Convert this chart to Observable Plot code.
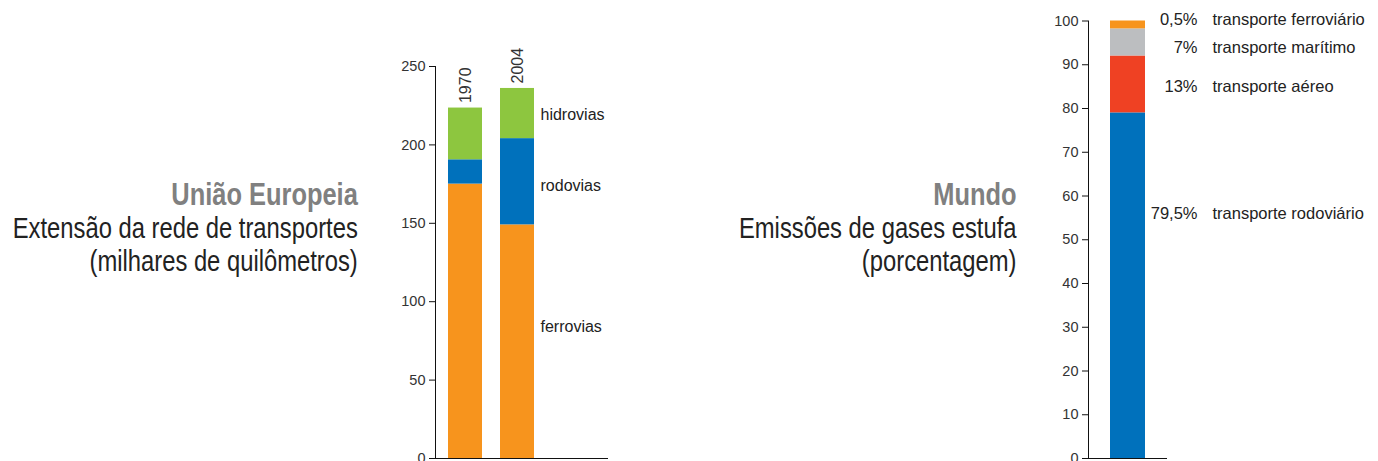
<!DOCTYPE html>
<html><head><meta charset="utf-8">
<script src="https://cdn.jsdelivr.net/npm/d3@7"></script>
<script src="https://cdn.jsdelivr.net/npm/@observablehq/plot@0.6"></script>
<style>
body{margin:0;background:#fff;}
#wrap{position:relative;width:1378px;height:461px;overflow:hidden;background:#fff;}
.ttl{position:absolute;text-align:right;font-family:"Liberation Sans",Arial,sans-serif;font-size:29px;line-height:33px;color:#222;white-space:nowrap;transform:scaleX(0.82);transform-origin:right top;}
.ttl b{color:#808080;font-size:31px;}
.plot{position:absolute;top:0;}
.plot svg{overflow:visible;}
</style></head><body><div id="wrap">
<div class="ttl" style="right:1020px;top:178px;"><b>União Europeia</b><br>Extensão da rede de transportes<br>(milhares de quilômetros)</div>
<div class="ttl" style="right:361px;top:178px;"><b>Mundo</b><br>Emissões de gases estufa<br>(porcentagem)</div>
<div class="plot" id="eu" style="left:380px;"></div>
<div class="plot" id="world" style="left:1030px;"></div>
</div>
<script>
// União Europeia – extensão da rede de transportes (milhares de km)
const euYears = ["1970", "2004"];
const euModes = ["ferrovias", "rodovias", "hidrovias"];
const euFerrovias = [175, 149];
const euRodovias = [15.5, 55];
const euHidrovias = [33, 32];
const euColors = ["#F7941D", "#0071BC", "#8DC63F"];
const euTicks = [0, 50, 100, 150, 200, 250];
const euLabelY = [84, 174, 219]; // where the mode names sit (ferrovias, rodovias, hidrovias)

// Mundo – emissões de gases estufa (%)
const wModes = ["transporte rodoviário", "transporte aéreo", "transporte marítimo", "transporte ferroviário"];
const wValues = [79, 13, 6.2, 1.8];
const wPctText = ["79,5%", "13%", "7%", "0,5%"];
const wColors = ["#0071BC", "#EF4123", "#BCBEC0", "#F7941D"];
const wTicks = [0, 10, 20, 30, 40, 50, 60, 70, 80, 90, 100];
const wLabelY = [56, 85, 94, 100.3];

const sans = "'Liberation Sans', Arial, sans-serif";

// ---- left chart
const euSeries = [euFerrovias, euRodovias, euHidrovias];
const euRows = [];
euModes.forEach((m, i) => euYears.forEach((y, j) => euRows.push({year: y, mode: m, value: euSeries[i][j]})));
const euTotals = euYears.map((y, j) => ({year: y, total: euSeries.reduce((s, a) => s + a[j], 0)}));
const euLabels = euModes.map((m, i) => ({year: euYears[1], mode: m, y: euLabelY[i]}));

const eu = Plot.plot({
  width: 228, height: 461,
  marginLeft: 55, marginRight: 0, marginTop: 66, marginBottom: 3,
  style: {fontFamily: sans, fontSize: "14.5px", color: "#333", background: "transparent", overflow: "visible"},
  x: {domain: euYears, range: [68, 154], paddingInner: 0.35, paddingOuter: 0, align: 0, axis: null},
  y: {domain: [0, 250], axis: null},
  color: {domain: euModes, range: euColors},
  marks: [
    Plot.barY(euRows, Plot.stackY({x: "year", y: "value", fill: "mode"})),
    Plot.axisY({ticks: euTicks, tickSize: 6, tickPadding: 4, fontSize: 14.5, fontFamily: sans, fill: "#333", stroke: "#111", label: null}),
    Plot.frame({anchor: "left", stroke: "#111"}),
    Plot.ruleY([0], {stroke: "#111", strokeWidth: 1.2}),
    Plot.text(euTotals, {x: "year", y: "total", text: "year", rotate: -90, textAnchor: "start", dy: -5, fontSize: 16, fontFamily: sans, fill: "#333"}),
    Plot.text(euLabels, {x: "year", y: "y", text: "mode", textAnchor: "start", dx: 23, fontSize: 16, fontFamily: sans, fill: "#222"})
  ]
});
document.getElementById("eu").appendChild(eu);

// ---- right chart
const wRows = wModes.map((m, i) => ({g: "Mundo", mode: m, value: wValues[i]}));
const wLabels = wModes.map((m, i) => ({g: "Mundo", mode: m, pct: wPctText[i], y: wLabelY[i]}));

const world = Plot.plot({
  width: 137, height: 461,
  marginLeft: 58, marginRight: 0, marginTop: 20.5, marginBottom: 3,
  style: {fontFamily: sans, fontSize: "14.5px", color: "#333", background: "transparent", overflow: "visible"},
  x: {domain: ["Mundo"], range: [80, 115], padding: 0, axis: null},
  y: {domain: [0, 100], axis: null},
  color: {domain: wModes, range: wColors},
  marks: [
    Plot.barY(wRows, Plot.stackY({x: "g", y: "value", fill: "mode"})),
    Plot.axisY({ticks: wTicks, tickSize: 6, tickPadding: 4, fontSize: 14.5, fontFamily: sans, fill: "#333", stroke: "#111", label: null}),
    Plot.frame({anchor: "left", stroke: "#111"}),
    Plot.ruleY([0], {stroke: "#111", strokeWidth: 1.2}),
    Plot.text(wLabels, {x: "g", y: "y", text: "pct", textAnchor: "end", dx: 69.5, fontSize: 16.5, fontFamily: sans, fill: "#222"}),
    Plot.text(wLabels, {x: "g", y: "y", text: "mode", textAnchor: "start", dx: 84.5, fontSize: 16.5, fontFamily: sans, fill: "#222"})
  ]
});
document.getElementById("world").appendChild(world);
</script>
</body></html>
